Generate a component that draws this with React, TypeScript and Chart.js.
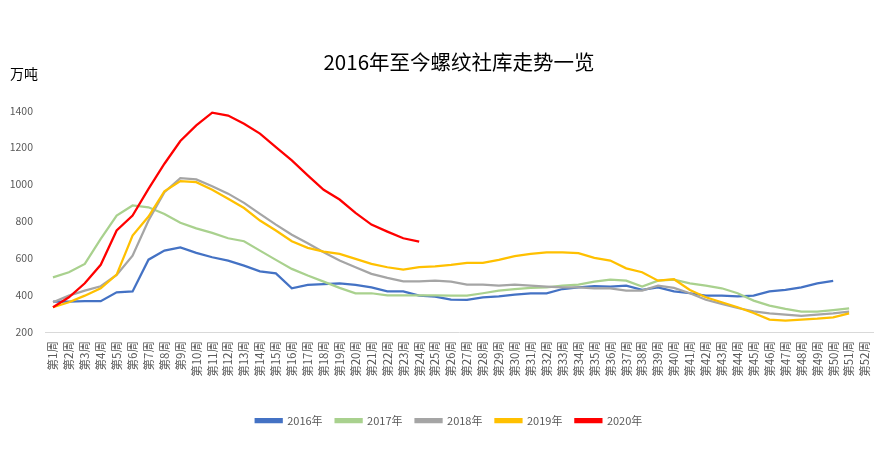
import React, { useEffect, useRef } from "react";
import { Chart, registerables } from "chart.js";

Chart.register(...registerables);

const FONT = "'Noto Sans CJK SC', 'Noto Sans', sans-serif";
const TITLE = "2016年至今螺纹社库走势一览";
const UNIT = "万吨";

const weeks: string[] = Array.from({ length: 52 }, (_, i) => `第${i + 1}周`);

const seriesNames = ["2016年", "2017年", "2018年", "2019年", "2020年"];
const seriesColors = ["#4472C4", "#A9D18E", "#A5A5A5", "#FFC000", "#FF0000"];

const y2016 = [364, 365, 367, 367, 415, 420, 592, 641, 659, 629, 605, 587, 560, 529, 518, 437, 455, 460, 464, 455, 442, 420, 420, 397, 392, 375, 374, 388, 393, 402, 410, 410, 433, 442, 448, 446, 451, 428, 442, 420, 410, 397, 397, 393, 397, 420, 428, 442, 464, 477];
const y2017 = [496, 524, 569, 705, 831, 886, 876, 840, 792, 762, 737, 708, 692, 641, 591, 542, 506, 473, 439, 410, 410, 399, 399, 399, 399, 397, 397, 410, 424, 433, 439, 442, 451, 457, 473, 484, 478, 446, 478, 484, 464, 451, 437, 410, 370, 343, 325, 310, 310, 319, 328];
const y2018 = [361, 397, 424, 448, 509, 614, 804, 958, 1034, 1027, 990, 950, 900, 840, 782, 727, 681, 632, 587, 551, 515, 493, 475, 475, 478, 473, 457, 457, 451, 457, 451, 446, 442, 442, 437, 437, 424, 424, 451, 439, 410, 375, 352, 330, 312, 301, 294, 288, 294, 301, 310];
const y2019 = [334, 361, 397, 437, 511, 723, 826, 963, 1018, 1012, 971, 922, 872, 804, 750, 692, 656, 636, 623, 596, 569, 551, 538, 551, 556, 564, 575, 575, 591, 611, 623, 632, 632, 627, 602, 587, 545, 524, 478, 486, 428, 388, 361, 334, 303, 267, 261, 267, 272, 279, 301];
const y2020 = [334, 388, 464, 564, 750, 831, 976, 1112, 1235, 1320, 1389, 1373, 1329, 1275, 1202, 1130, 1049, 971, 918, 846, 782, 744, 708, 690];

const seriesValues = [y2016, y2017, y2018, y2019, y2020];

const Y_MIN = 200;
const Y_MAX = 1400;
const Y_STEP = 200;

const unitPlugin = {
  id: "unitLabel",
  afterDraw(chart: any) {
    const ctx = chart.ctx;
    ctx.save();
    ctx.font = `14px ${FONT}`;
    ctx.fillStyle = "#000000";
    ctx.textBaseline = "middle";
    ctx.textAlign = "left";
    ctx.fillText(UNIT, 10, chart.chartArea.top - 36.5);
    ctx.restore();
  },
};

// nudge the legend block slightly left of the plot-area centre
const legendShiftPlugin = {
  id: "legendShift",
  afterLayout(chart: any) {
    const lg = chart.legend;
    if (!lg) return;
    lg.left -= 10;
    lg.right -= 10;
  },
};

export default function App() {
  const canvasRef = useRef<HTMLCanvasElement | null>(null);

  useEffect(() => {
    if (!canvasRef.current) return;
    const n = seriesNames.length;
    const chart = new Chart(canvasRef.current, {
      type: "line",
      data: {
        labels: weeks,
        datasets: seriesNames.map((name, i) => ({
          label: name,
          data: seriesValues[i],
          borderColor: seriesColors[i],
          backgroundColor: seriesColors[i],
          borderWidth: 2.25,
          pointRadius: 0,
          pointHoverRadius: 0,
          tension: 0,
          fill: false,
          order: n - i,
        })),
      },
      options: {
        animation: false,
        responsive: true,
        maintainAspectRatio: false,
        layout: { padding: { left: 0, right: 15, top: 0, bottom: 30 } },
        plugins: {
          title: {
            display: true,
            fullSize: false,
            text: TITLE,
            color: "#000000",
            font: { family: FONT, size: 20.5, weight: "normal" },
            padding: { top: 50, bottom: 36 },
          },
          legend: {
            position: "bottom",
            fullSize: false,
            labels: {
              boxWidth: 26,
              boxHeight: 3,
              padding: 13,
              color: "#595959",
              font: { family: FONT, size: 11 },
              sort: (a: any, b: any) => a.datasetIndex - b.datasetIndex,
            },
          },
          tooltip: { enabled: false },
        },
        scales: {
          x: {
            offset: true,
            grid: { display: true, drawOnChartArea: false, drawTicks: false },
            border: { display: true, color: "#D9D9D9", width: 1 },
            ticks: {
              autoSkip: false,
              maxRotation: 90,
              minRotation: 90,
              padding: 9,
              color: "#595959",
              font: { family: FONT, size: 11.5 },
            },
            afterFit(scale: any) {
              scale.height = 70;
            },
          },
          y: {
            min: Y_MIN,
            max: Y_MAX,
            grid: { display: false, drawTicks: false },
            border: { display: false },
            ticks: {
              stepSize: Y_STEP,
              padding: 12,
              color: "#595959",
              font: { family: FONT, size: 10.5 },
              callback: (v: any) => String(v),
            },
            afterFit(scale: any) {
              scale.width = 45;
            },
          },
        },
      },
      plugins: [unitPlugin, legendShiftPlugin],
    });
    return () => chart.destroy();
  }, []);

  return (
    <div style={{ position: "absolute", left: 0, top: 0, width: 888, height: 466, background: "#ffffff" }}>
      <canvas ref={canvasRef} />
    </div>
  );
}
